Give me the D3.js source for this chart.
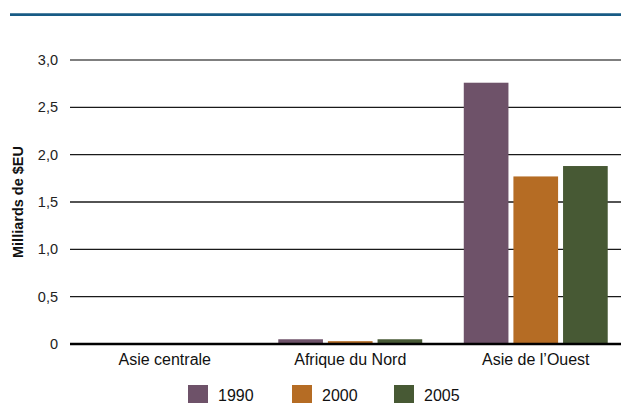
<!DOCTYPE html>
<html>
<head>
<meta charset="utf-8">
<script src="https://cdn.jsdelivr.net/npm/d3@7"></script>
<style>
  body { margin: 0; background: #fff; }
  svg { display: block; font-family: "Liberation Sans", Arial, sans-serif; }
</style>
</head>
<body>
<div id="chart"></div>
<script>
// données
const regions = ["Asie centrale", "Afrique du Nord", "Asie de l\u2019Ouest"];
const years = ["1990", "2000", "2005"];
const values1990 = [0, 0.05, 2.76];
const values2000 = [0, 0.03, 1.77];
const values2005 = [0, 0.05, 1.88];
const yTicks = [0, 0.5, 1, 1.5, 2, 2.5, 3];
const colors = ["#6e5269", "#b56c24", "#475934"];

const series = [values1990, values2000, values2005];
const rows = regions.map((r, i) => ({
    region: r,
    vals: years.map((y, j) => ({ year: y, value: series[j][i] }))
}));

const width = 621, height = 403;
const svg = d3.select("#chart").append("svg")
    .attr("width", width)
    .attr("height", height);

// filet bleu du haut
svg.append("line")
    .attr("x1", 10).attr("x2", width)
    .attr("y1", 14.7).attr("y2", 14.7)
    .attr("stroke", "#175b85")
    .attr("stroke-width", 2.8);

// échelles
const x0 = d3.scaleBand()
    .domain(regions)
    .range([72, 628.5])
    .paddingInner(0.224)
    .paddingOuter(0.112);

const x1 = d3.scaleBand()
    .domain(years)
    .range([0, x0.bandwidth()])
    .paddingInner(0.1);

const y = d3.scaleLinear()
    .domain([0, 3])
    .range([344, 60]);

const color = d3.scaleOrdinal().domain(years).range(colors);

const fr = d3.formatLocale({ decimal: ",", thousands: " ", grouping: [3], currency: ["", " $"] });
const fmt = d => d === 0 ? "0" : fr.format(".1f")(d);

// quadrillage
svg.append("g")
    .selectAll("line")
    .data(yTicks.filter(d => d > 0))
    .join("line")
    .attr("x1", 70).attr("x2", width)
    .attr("y1", d => y(d)).attr("y2", d => y(d))
    .attr("stroke", (d, i) => d === 3 ? "#555" : "#1a1a1a")
    .attr("stroke-width", 1.4);

// étiquettes de l'axe y
svg.append("g")
    .selectAll("text")
    .data(yTicks)
    .join("text")
    .attr("x", 58)
    .attr("y", d => y(d))
    .attr("dy", "0.35em")
    .attr("text-anchor", "end")
    .attr("font-size", 14.5)
    .attr("fill", "#222")
    .text(fmt);

// barres
svg.append("g")
    .selectAll("g")
    .data(rows)
    .join("g")
    .attr("transform", d => `translate(${x0(d.region)},0)`)
    .selectAll("rect")
    .data(d => d.vals)
    .join("rect")
    .attr("x", d => x1(d.year))
    .attr("y", d => y(d.value))
    .attr("width", x1.bandwidth())
    .attr("height", d => y(0) - y(d.value))
    .attr("fill", d => color(d.year));

// ligne du zéro
svg.append("line")
    .attr("x1", 70).attr("x2", width)
    .attr("y1", y(0)).attr("y2", y(0))
    .attr("stroke", "#000")
    .attr("stroke-width", 2.6);

// axe x
const xAxis = svg.append("g")
    .attr("transform", `translate(0,${y(0)})`)
    .call(d3.axisBottom(x0).tickSize(0).tickPadding(10));
xAxis.select(".domain").remove();
xAxis.selectAll("text")
    .attr("font-family", "Liberation Sans, Arial, sans-serif")
    .attr("font-size", 16)
    .attr("fill", "#111");

// titre de l'axe y
svg.append("text")
    .attr("transform", `translate(23,${(y(0) + y(3)) / 2}) rotate(-90)`)
    .attr("text-anchor", "middle")
    .attr("font-size", 14.5)
    .attr("font-weight", "bold")
    .attr("fill", "#111")
    .text("Milliards de $EU");

// légende
const legendX = [188, 292, 394];
const legend = svg.append("g")
    .selectAll("g")
    .data(years)
    .join("g")
    .attr("transform", (d, i) => `translate(${legendX[i]},385)`);
legend.append("rect")
    .attr("width", 20).attr("height", 20)
    .attr("fill", d => color(d));
legend.append("text")
    .attr("x", 30).attr("y", 10)
    .attr("dy", "0.35em")
    .attr("font-size", 16)
    .attr("fill", "#111")
    .text(d => d);
</script>
</body>
</html>
